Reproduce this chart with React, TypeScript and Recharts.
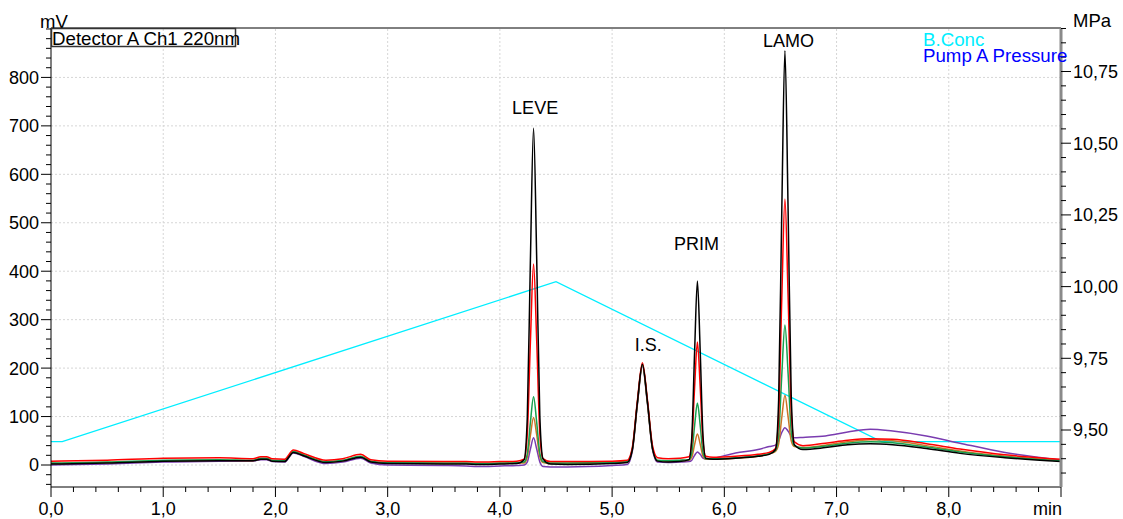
import React from 'react';
import { LineChart, Line, XAxis, YAxis, ReferenceLine, ReferenceDot } from 'recharts';

// retention time axis (min) shared by the five detector traces
const times = [
  0, 0.5, 1.0, 1.5, 1.8, 1.87, 1.92, 1.97, 2.08, 2.16, 2.25, 2.45, 2.6, 2.76, 2.85, 3.0, 3.5, 3.7, 3.8, 4.0, 4.15,
  4.216, 4.244, 4.272, 4.3, 4.328, 4.356, 4.384,
  4.45, 4.6, 5.0,
  5.135, 5.18, 5.225, 5.27, 5.315, 5.36, 5.405,
  5.5, 5.6,
  5.685, 5.71, 5.735, 5.76, 5.785, 5.81, 5.835,
  5.9, 6.1, 6.3, 6.4,
  6.456, 6.484, 6.512, 6.54, 6.568, 6.596, 6.624,
  6.7, 6.9, 7.1, 7.3, 7.5, 7.8, 8.1, 8.5, 9.0,
];

// mV, one value per time point
const blackTrace = [
  2, 4, 8, 9, 9, 12, 12, 8, 7, 26, 19, 5, 8, 16, 6, 3, 2, 2, 1, 2, 3,
  11, 97, 424, 695, 426, 100, 13,
  2, 1, 3,
  5, 31, 128, 208, 130, 34, 8,
  6, 7,
  11, 57, 233, 380, 235, 60, 14,
  12, 14, 18, 22,
  32, 135, 526, 855, 530, 144, 42,
  32, 36, 42, 44, 42, 34, 24, 15, 7,
];
const redTrace = [
  8, 10, 14, 15, 13, 17, 17, 13, 12, 31, 24, 10, 13, 22, 11, 8, 7, 7, 6, 7, 8,
  12, 63, 255, 415, 257, 64, 13,
  7, 7, 8,
  10, 36, 132, 211, 134, 40, 15,
  13, 14,
  17, 47, 160, 254, 161, 48, 18,
  16, 18, 22, 26,
  34, 100, 345, 549, 350, 112, 48,
  40, 45, 51, 54, 53, 44, 33, 21, 12,
];
const greenTrace = [
  4, 6, 10, 11, 10, 14, 14, 10, 9, 28, 21, 7, 10, 18, 8, 5, 4, 4, 3, 4, 5,
  6, 23, 88, 141, 88, 24, 7,
  4, 4, 5,
  7, 33, 128, 207, 129, 35, 10,
  9, 10,
  11, 25, 81, 128, 82, 26, 13,
  13, 15, 19, 24,
  30, 62, 186, 289, 190, 70, 40,
  35, 39, 45, 48, 46, 37, 27, 17, 9,
];
const orangeTrace = [
  3, 5, 9, 10, 9, 13, 13, 9, 8, 27, 20, 6, 9, 17, 7, 4, 3, 3, 2, 3, 4,
  4, 16, 61, 98, 62, 17, 5,
  3, 3, 4,
  6, 32, 127, 206, 128, 34, 9,
  8, 9,
  10, 16, 42, 64, 43, 18, 12,
  12, 14, 18, 23,
  28, 43, 98, 144, 100, 50, 38,
  36, 41, 48, 52, 50, 40, 29, 18, 9,
];
const purpleTrace = [
  0, 2, 6, 8, 8, 11, 11, 7, 6, 25, 18, 3, 6, 14, 4, 0, -1, -2, -3, -2, -1,
  0, 6, 33, 56, 33, 6, -3,
  -4, -4, -1,
  1, 28, 124, 204, 126, 32, 6,
  5, 6,
  7, 10, 20, 27, 22, 14, 12,
  14, 25, 32, 38,
  41, 50, 67, 77, 70, 60, 56,
  57, 60, 68, 74, 70, 60, 45, 26, 10,
];

// B.Conc gradient program
const gradTimes = [0, 0.1, 4.5, 7.4, 9.0];
const gradConc = [10, 10, 70, 10, 10];

// peak annotations
const peakNames = ['LEVE', 'I.S.', 'PRIM', 'LAMO'];
const peakLabelTimes = [4.314, 5.323, 5.753, 6.572];
const peakLabelMv = [738, 248, 457, 877];

const mvLabels = [0, 100, 200, 300, 400, 500, 600, 700, 800];
const mpaLabels = [9.5, 9.75, 10.0, 10.25, 10.5, 10.75];
const minuteLabels = [0, 1, 2, 3, 4, 5, 6, 7, 8, 9];

const mvDomain = [-45.4, 902];
const mpaDomain = [9.3013, 10.9017];
const concDomain = [-6.99, 165.1];

const FONT = '"Liberation Sans", Arial, sans-serif';

const traceData = times.map((t, i) => ({
  t,
  black: blackTrace[i],
  red: redTrace[i],
  green: greenTrace[i],
  orange: orangeTrace[i],
  purple: purpleTrace[i],
}));
const gradData = gradTimes.map((t, i) => ({ t, conc: gradConc[i] }));

const mvTicks = Array.from({ length: 48 }, (_, i) => -40 + i * 20);
const mpaTicks = Array.from({ length: 32 }, (_, i) => Math.round((9.35 + i * 0.05) * 100) / 100);
const minTicks = Array.from({ length: 46 }, (_, i) => Math.round(i * 0.2 * 10) / 10);

const LeftTick = (props: any) => {
  const { x, y, payload } = props;
  const v = payload.value;
  const major = mvLabels.includes(v);
  const ax = x + 12;
  return (
    <g>
      <line x1={ax - (major ? 10 : 5)} x2={ax} y1={y} y2={y} stroke="#000" />
      {major && (
        <text x={x} y={y} dy="0.36em" textAnchor="end" fontSize={18} fontFamily={FONT} fill="#000">
          {v}
        </text>
      )}
    </g>
  );
};

const RightTick = (props: any) => {
  const { x, y, payload } = props;
  const v = payload.value;
  const major = mpaLabels.some((m) => Math.abs(m - v) < 1e-6);
  const ax = x - 12;
  return (
    <g>
      <line x1={ax} x2={ax + (major ? 10 : 5)} y1={y} y2={y} stroke="#000" />
      {major && (
        <text x={x} y={y} dy="0.36em" textAnchor="start" fontSize={18} fontFamily={FONT} fill="#000">
          {v.toFixed(2).replace('.', ',')}
        </text>
      )}
    </g>
  );
};

const BottomTick = (props: any) => {
  const { x, y, payload } = props;
  const v = payload.value;
  const major = minuteLabels.some((m) => Math.abs(m - v) < 1e-6);
  const ay = y - 12;
  const last = Math.abs(v - 9) < 1e-6;
  return (
    <g>
      <line x1={x} x2={x} y1={ay} y2={ay + (major ? 10 : 5)} stroke="#000" />
      {major && (
        <text
          x={last ? x + 1 : x}
          y={ay + 28}
          textAnchor={last ? 'end' : 'middle'}
          fontSize={18}
          fontFamily={FONT}
          fill="#000"
        >
          {last ? 'min' : v.toFixed(1).replace('.', ',')}
        </text>
      )}
    </g>
  );
};

const PeakLabel = (props: any) => {
  const { viewBox, value } = props;
  const cx = viewBox.x + (viewBox.width || 0) / 2;
  const cy = viewBox.y + (viewBox.height || 0) / 2;
  return (
    <text x={cx} y={cy} dy="0.36em" textAnchor="middle" fontSize={18} fontFamily={FONT} fill="#000">
      {value}
    </text>
  );
};

export default function App() {
  return (
    <div style={{ position: 'fixed', left: 0, top: 0, width: 1123, height: 519, background: '#fff' }}>
      <LineChart width={1123} height={519} data={traceData} margin={{ top: 28, right: 0, bottom: 0, left: 0 }}>
        <XAxis
          xAxisId="t"
          dataKey="t"
          type="number"
          domain={[0, 9]}
          ticks={minTicks}
          allowDataOverflow
          height={32}
          tickSize={10}
          tickMargin={2}
          tickLine={false}
          axisLine={{ stroke: '#000' }}
          tick={<BottomTick />}
          interval={0}
        />
        <YAxis
          yAxisId="mv"
          orientation="left"
          type="number"
          domain={mvDomain}
          ticks={mvTicks}
          allowDataOverflow
          width={51}
          tickSize={10}
          tickMargin={2}
          tickLine={false}
          axisLine={{ stroke: '#000' }}
          tick={<LeftTick />}
          interval={0}
        />
        <YAxis
          yAxisId="mpa"
          orientation="right"
          type="number"
          domain={mpaDomain}
          ticks={mpaTicks}
          allowDataOverflow
          width={62}
          tickSize={10}
          tickMargin={2}
          tickLine={false}
          axisLine={{ stroke: '#8a8a8a', strokeWidth: 3 }}
          tick={<RightTick />}
          interval={0}
        />
        <YAxis yAxisId="conc" hide width={0} orientation="right" type="number" domain={concDomain} allowDataOverflow />

        {mvLabels.map((v) => (
          <ReferenceLine key={'h' + v} xAxisId="t" yAxisId="mv" y={v} stroke="#d6d6d6" strokeDasharray="2 2" />
        ))}
        {minuteLabels.slice(1, -1).map((v) => (
          <ReferenceLine key={'v' + v} xAxisId="t" yAxisId="mv" x={v} stroke="#d6d6d6" strokeDasharray="2 2" />
        ))}
        <ReferenceLine xAxisId="t" yAxisId="mv" y={mvDomain[1]} stroke="#000" />

        <Line
          xAxisId="t"
          yAxisId="conc"
          data={gradData}
          dataKey="conc"
          type="linear"
          stroke="#00eeff"
          strokeWidth={1.3}
          dot={false}
          isAnimationActive={false}
        />
        <Line xAxisId="t" yAxisId="mv" dataKey="purple" type="monotone" stroke="#7a3cb0" strokeWidth={1.5} dot={false} isAnimationActive={false} />
        <Line xAxisId="t" yAxisId="mv" dataKey="orange" type="monotone" stroke="#cc7426" strokeWidth={1.5} dot={false} isAnimationActive={false} />
        <Line xAxisId="t" yAxisId="mv" dataKey="green" type="monotone" stroke="#16a04e" strokeWidth={1.5} dot={false} isAnimationActive={false} />
        <Line xAxisId="t" yAxisId="mv" dataKey="red" type="monotone" stroke="#ff0000" strokeWidth={1.5} dot={false} isAnimationActive={false} />
        <Line xAxisId="t" yAxisId="mv" dataKey="black" type="monotone" stroke="#000000" strokeWidth={1.5} dot={false} isAnimationActive={false} />

        {peakNames.map((name, i) => (
          <ReferenceDot
            key={name}
            xAxisId="t"
            yAxisId="mv"
            x={peakLabelTimes[i]}
            y={peakLabelMv[i]}
            r={0}
            fill="none"
            stroke="none"
            label={<PeakLabel value={name} />}
          />
        ))}
      </LineChart>

      <svg width={1123} height={519} style={{ position: 'absolute', left: 0, top: 0, pointerEvents: 'none' }}>
        <text x={40} y={28} fontSize={18.5} fontFamily={FONT} fill="#000">mV</text>
        <text x={1073} y={27} fontSize={18.5} fontFamily={FONT} fill="#000">MPa</text>
        <rect x={51.5} y={28.5} width={184} height={18} fill="none" stroke="#333" strokeWidth={1.5} />
        <text x={52} y={45} fontSize={18.7} fontFamily={FONT} fill="#000">Detector A Ch1 220nm</text>
        <text x={923} y={46} fontSize={18.7} fontFamily={FONT} fill="#00eeff">B.Conc</text>
        <text x={923} y={62} fontSize={18.7} fontFamily={FONT} fill="#0000ff">Pump A Pressure</text>
      </svg>
    </div>
  );
}
